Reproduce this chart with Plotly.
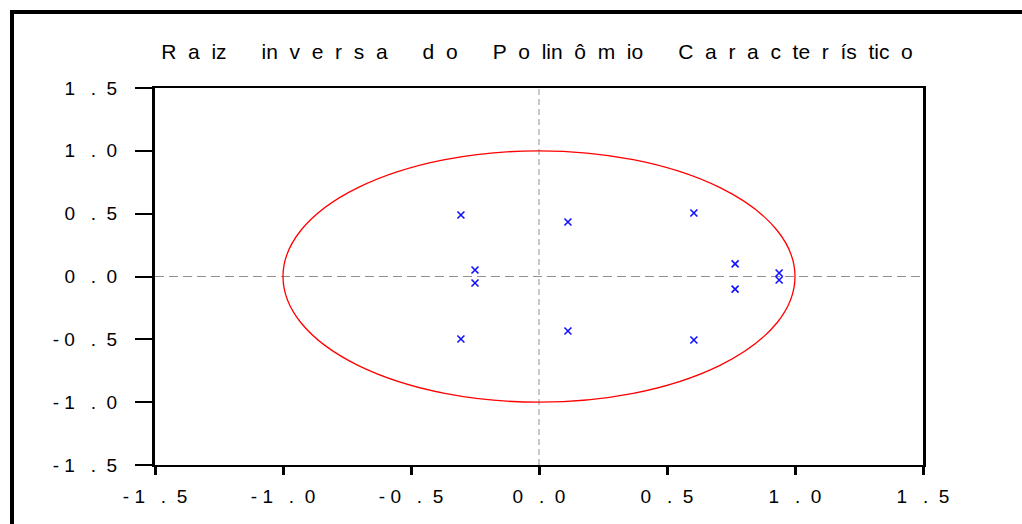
import plotly.graph_objects as go

# Inverse roots (real, imaginary)
root_re = [-0.305, -0.305, -0.25, -0.25, 0.113, 0.113, 0.605, 0.605, 0.766, 0.766, 0.938, 0.938]
root_im = [0.489, -0.497, 0.052, -0.052, 0.434, -0.434, 0.505, -0.505, 0.10, -0.10, 0.028, -0.028]

tick_vals = [-1.5, -1.0, -0.5, 0.0, 0.5, 1.0, 1.5]
tick_labels = ["-1.5", "-1.0", "-0.5", "0.0", "0.5", "1.0", "1.5"]
title_words = [["R", "a", "iz"], ["in", "v", "e", "r", "s", "a"], ["d", "o"],
               ["P", "o", "lin", "ô", "m", "io"],
               ["C", "a", "r", "a", "c", "te", "r", "ís", "tic", "o"]]

NB = "\u00a0"


def spaced_tick(s, after_dot):
    out = s.replace("-", "-" + NB)
    return out.replace(".", NB * 3 + "." + NB * after_dot)


xtick_text = [spaced_tick(t, 2) for t in tick_labels]
ytick_text = [spaced_tick(t, 2) for t in tick_labels]
title_text = (NB * 6).join((NB * 2).join(w) for w in title_words)

font = dict(family="Liberation Sans, Arial, sans-serif", size=19, color="black")
title_font = dict(family="Liberation Sans, Arial, sans-serif", size=21, color="black")

fig = go.Figure()

fig.add_trace(go.Scatter(
    x=root_re, y=root_im, mode="markers",
    marker=dict(symbol="x-thin-open", size=7, color="#1010ff",
                line=dict(color="#1010ff", width=1.6)),
    showlegend=False, hoverinfo="x+y",
))

shapes = [
    dict(type="circle", xref="x", yref="y", x0=-1, x1=1, y0=-1, y1=1,
         line=dict(color="#ff0000", width=1.3), layer="above"),
    dict(type="line", xref="x", yref="paper", x0=0, x1=0, y0=0, y1=1,
         line=dict(color="#909090", width=1, dash="6px,4px"), layer="below"),
    dict(type="line", xref="paper", yref="y", x0=0, x1=1, y0=0, y1=0,
         line=dict(color="#909090", width=1, dash="9px,5px"), layer="below"),
    # outer frame (top and left)
    dict(type="line", xref="paper", yref="paper", x0=-145/768, x1=(1022-155)/768 + 0.01,
         y0=(465-12)/377, y1=(465-12)/377, line=dict(color="black", width=4)),
    dict(type="line", xref="paper", yref="paper", x0=-143/768, x1=-143/768,
         y0=(465-524)/377 - 0.01, y1=(465-10)/377, line=dict(color="black", width=4)),
]

fig.update_layout(
    width=1022, height=524,
    margin=dict(l=155, r=99, t=88, b=59),
    paper_bgcolor="white", plot_bgcolor="white",
    font=font,
    shapes=shapes,
    title=dict(text=title_text, x=537/1022, xanchor="center",
               y=1 - 52/524, yanchor="middle", font=title_font),
    xaxis=dict(range=[-1.5, 1.5], tickvals=tick_vals, ticktext=xtick_text,
               showgrid=False, zeroline=False, showline=True, linecolor="black",
               linewidth=2, mirror=True, ticks="outside", ticklen=8, tickwidth=3,
               tickcolor="black", tickfont=font, ticklabelstandoff=5),
    yaxis=dict(range=[-1.5, 1.5], tickvals=tick_vals, ticktext=ytick_text,
               showgrid=False, zeroline=False, showline=True, linecolor="black",
               linewidth=3, mirror=True, ticks="outside", ticklen=17, tickwidth=1.5,
               tickcolor="black", tickfont=font, ticklabelstandoff=14),
)

fig.write_html("out.html")
